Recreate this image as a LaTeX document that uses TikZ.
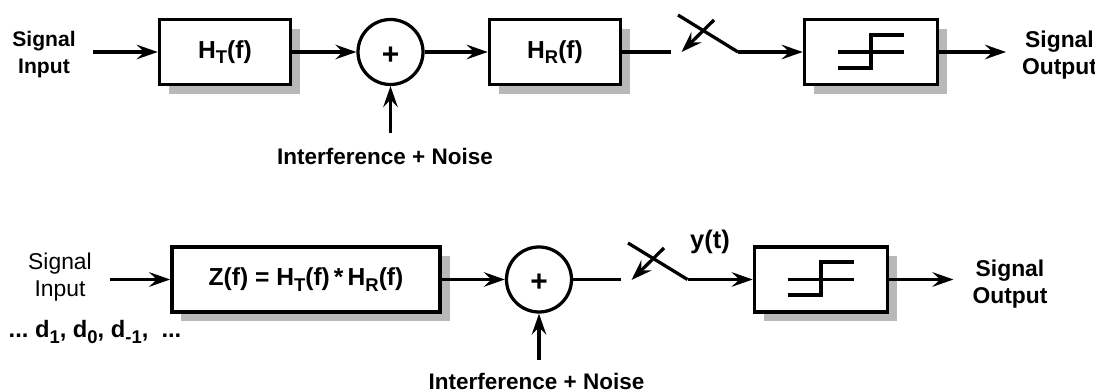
\documentclass[tikz,border=0pt]{standalone}
\usepackage{fontspec}
\setmainfont{Liberation Sans}
\usetikzlibrary{arrows.meta,shadows}
\definecolor{shadowgray}{gray}{0.72}
\newcommand{\lowtxt}[1]{\raisebox{-0.4ex}{\fontsize{10.5}{11}\selectfont #1}}
\begin{document}
\begin{tikzpicture}
        [x=0.2mm, y=-0.2mm,
        block/.style={rectangle,draw,fill=white,line width=0.7mm,minimum height=13mm,
            font=\fontsize{14}{15}\selectfont\bfseries,
            copy shadow={draw=none,fill=shadowgray,shadow xshift=1.9mm,shadow yshift=-1.9mm}},
        sumnode/.style={circle,draw,fill=white,line width=0.65mm,minimum size=13mm,inner sep=0pt,
            text height=14pt,text depth=0pt,font=\fontsize{17}{17}\selectfont\bfseries},
        txt/.style={align=center,font=\fontsize{12}{15.4}\selectfont\bfseries},
        outtxt/.style={align=center,font=\fontsize{13}{15.4}\selectfont\bfseries},
        noisetxt/.style={font=\fontsize{12.8}{15}\selectfont\bfseries},
        edge/.style={line width=0.65mm, -{Stealth[length=4.2mm,width=2.9mm,inset=1.5mm]}},
        wire/.style={line width=0.65mm}]

        \useasboundingbox (0,0) rectangle (1095,392);

        % top chain
        \node[txt] (inA) at (44,55) {Signal\\Input};
        \node[block,minimum width=26.2mm] (ht) at (225,52) {H\lowtxt{T}(f)};
        \node[sumnode] (sumA) at (390.5,52) {+};
        \node[block,minimum width=26.2mm] (hr) at (555,52) {H\lowtxt{R}(f)};
        \node[block,minimum width=26.6mm] (slicerA) at (871,52) {};
        \node[outtxt] (outA) at (1059.5,55) {Signal\\Output};
        \node[noisetxt] (noiseA) at (385,156) {Interference + Noise};

        \coordinate (startA) at (93,52);
        \coordinate (noiseTopA) at (390.5,133);
        \coordinate (swInA) at (671,52);
        \coordinate (swOutA) at (738,52);
        \coordinate (swEndA) at (678,15);
        \coordinate (swTailA) at (714,20);
        \coordinate (swTipA) at (681.5,52);
        \coordinate (endA) at (1006,52);

        \draw[edge] (startA) -- (ht);
        \draw[edge] (ht) -- (sumA);
        \draw[edge] (sumA) -- (hr);
        \draw[edge] (noiseTopA) -- (sumA);
        \draw[wire] (hr) -- (swInA);
        \draw[wire] (swEndA) -- (swOutA);
        \draw[edge] (swTailA) -- (swTipA);
        \draw[edge] (swOutA) -- (slicerA);
        \draw[edge] (slicerA) -- (endA);

        % step inside the top slicer
        \draw[wire] (838,52) -- (904,52);
        \draw[wire] (838,68) -- (871,68) -- (871,35) -- (904,35);

        % bottom chain
        \node[align=center,font=\fontsize{13}{15.4}\selectfont] (inB) at (60,277) {Signal\\Input};
        \node[txt,font=\fontsize{13.5}{15}\selectfont\bfseries] (symbols) at (95,332) {...\ d\lowtxt{1}, d\lowtxt{0}, d\lowtxt{-1}, \ ...};
        \node[block,minimum width=53.6mm] (zf) at (306,279.5) {Z(f)\ = H\lowtxt{T}(f)\,*\,H\lowtxt{R}(f)};
        \node[sumnode] (sumB) at (539,279.5) {+};
        \node[block,minimum width=26.6mm] (slicerB) at (821,279.5) {};
        \node[outtxt] (outB) at (1010,284) {Signal\\Output};
        \node[txt,font=\fontsize{14.5}{15}\selectfont\bfseries] (yt) at (710,242) {y(t)};
        \node[noisetxt] (noiseB) at (536.5,381) {Interference + Noise};

        \coordinate (startB) at (110,279.5);
        \coordinate (noiseTopB) at (539,360);
        \coordinate (swInB) at (621,279.5);
        \coordinate (swOutB) at (687.5,279.5);
        \coordinate (swEndB) at (628,243);
        \coordinate (swTailB) at (664,248);
        \coordinate (swTipB) at (631.5,280);
        \coordinate (endB) at (953.5,279.5);

        \draw[edge] (startB) -- (zf);
        \draw[edge] (zf) -- (sumB);
        \draw[edge] (noiseTopB) -- (sumB);
        \draw[wire] (sumB) -- (swInB);
        \draw[wire] (swEndB) -- (swOutB);
        \draw[edge] (swTailB) -- (swTipB);
        \draw[edge] (swOutB) -- (slicerB);
        \draw[edge] (slicerB) -- (endB);

        % step inside the bottom slicer
        \draw[wire] (787.5,279.5) -- (854,279.5);
        \draw[wire] (787.5,295) -- (821,295) -- (821,262) -- (854,262);

\end{tikzpicture}
\end{document}
